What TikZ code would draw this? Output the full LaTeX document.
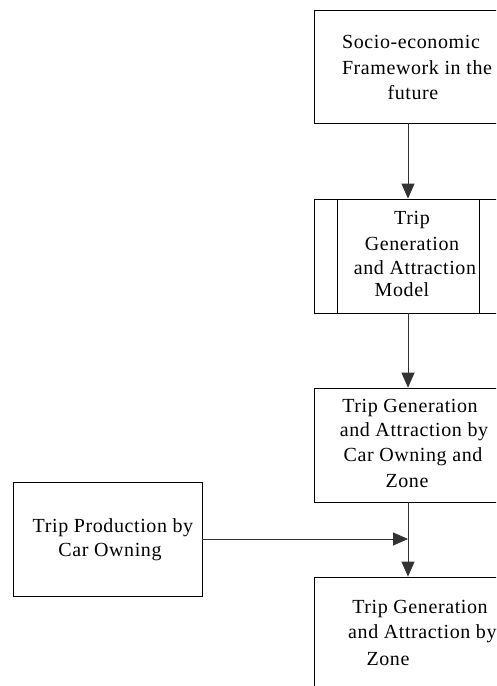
\documentclass[tikz,border=0pt]{standalone}
\usepackage{fontspec}
\setmainfont{Liberation Serif}[LetterSpace=3]
\usetikzlibrary{arrows.meta}
\begin{document}
\begin{tikzpicture}[x=1pt,y=-1pt,
  box/.style={draw=black, line width=0.8pt, rectangle, inner sep=0pt, fill=white},
  txt/.style={anchor=base, inner sep=0pt, font=\fontsize{20}{25}\selectfont},
  link/.style={draw=black!80, line width=0.8pt},
  tip/.style={-{Triangle[width=13pt,length=15pt]}}]
\useasboundingbox (0,0) rectangle (496,686);
\clip (0,0) rectangle (496,686);

% boxes of the chain
\node[box, minimum width=188pt, minimum height=113pt] (frame) at (408,66.5) {};
\node[box, minimum width=188pt, minimum height=114pt] (model) at (408,256) {};
\draw[line width=0.8pt] ([xshift=24pt]model.north west) -- ([xshift=24pt]model.south west);
\draw[line width=0.8pt] ([xshift=-23pt]model.north east) -- ([xshift=-23pt]model.south east);
\node[box, minimum width=188pt, minimum height=114pt] (bycar) at (408,445) {};
\node[box, minimum width=189pt, minimum height=114pt] (prod) at (107.5,539) {};
\node[box, minimum width=188pt, minimum height=114pt] (byzone) at (408,634) {};

% texts
\node[txt] (f1) at (411,48) {Socio-economic};
\node[txt] (f2) at (417,74) {Framework in the};
\node[txt] (f3) at (413,99) {future};

\node[txt] (m1) at (412,224) {Trip};
\node[txt] (m2) at (412,250) {Generation};
\node[txt] (m3) at (415,274) {and Attraction};
\node[txt] (m4) at (402,296) {Model};

\node[txt] (c1) at (410,412) {Trip Generation};
\node[txt] (c2) at (414,436) {and Attraction by};
\node[txt] (c3) at (413,461) {Car Owning and};
\node[txt] (c4) at (407,487) {Zone};

\node[txt] (p1) at (113,532) {Trip Production by};
\node[txt] (p2) at (110,556) {Car Owning};

\node[txt] (z1) at (420,613) {Trip Generation};
\node[txt, anchor=base west] (z2) at (348,638) {and Attraction by};
\node[txt] (z3) at (388,665) {Zone};

% connectors
\coordinate (join) at (bycar.south |- prod.east);
\draw[link, tip] (frame.south) -- (model.north);
\draw[link, tip] (model.south) -- (bycar.north);
\draw[link, tip] (bycar.south) -- (byzone.north);
\draw[link, tip] (prod.east) -- (join);
\end{tikzpicture}
\end{document}
